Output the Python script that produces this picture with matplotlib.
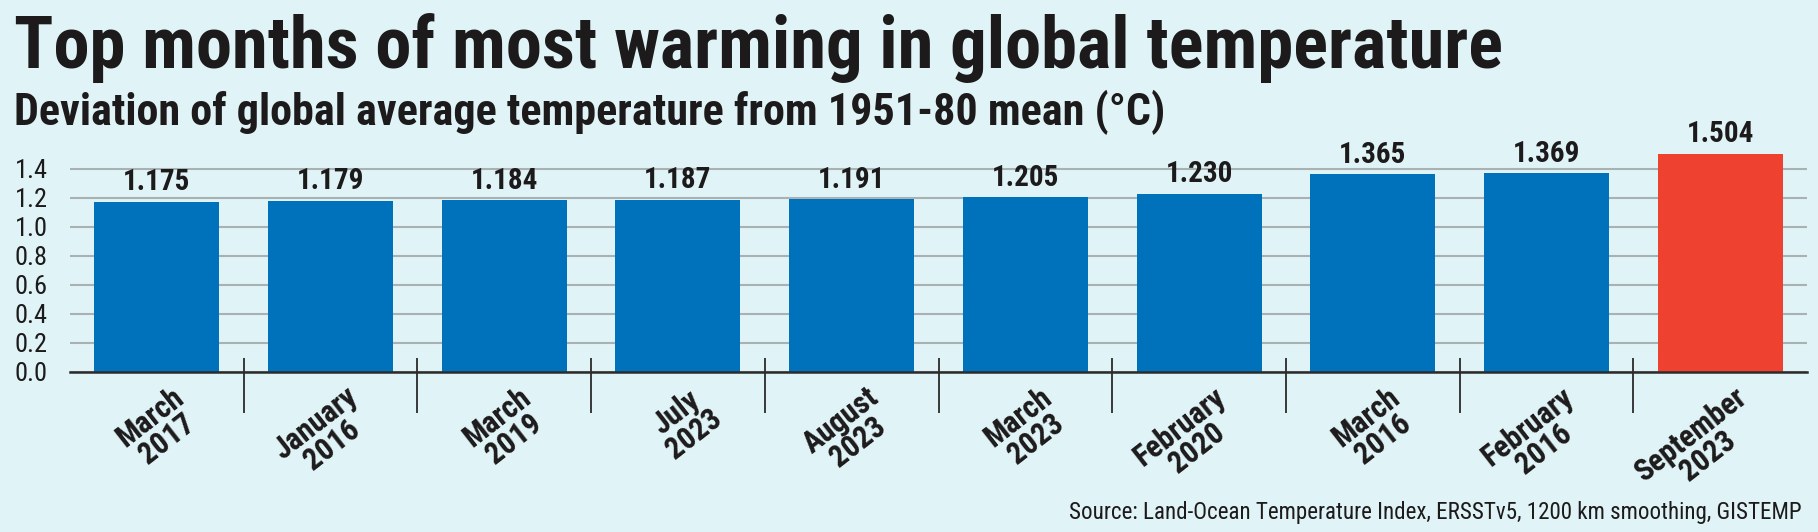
import matplotlib.pyplot as plt
import matplotlib.transforms as mtransforms
from matplotlib import font_manager

# data
months = ["March\n2017", "January\n2016", "March\n2019", "July\n2023", "August\n2023",
          "March\n2023", "February\n2020", "March\n2016", "February\n2016", "September\n2023"]
anomaly = [1.175, 1.179, 1.184, 1.187, 1.191, 1.205, 1.230, 1.365, 1.369, 1.504]
highlight = "September\n2023"
yticks = [0.0, 0.2, 0.4, 0.6, 0.8, 1.0, 1.2, 1.4]

bg = "#e0f3f6"
blue = "#0072bc"
red = "#ef4130"
ink = "#1c1a1b"

# pick a narrow face if one is around
installed = {(f.name, f.stretch) for f in font_manager.fontManager.ttflist}
names = {n for n, _ in installed}
condensed_names = sorted({n for n, s in installed if s in ("condensed", "semi-condensed", "extra-condensed", 75, 87.5)
                          or "Condensed" in n or "Narrow" in n})
family = [n for n in ["Liberation Sans Narrow", "Roboto Condensed", "Open Sans Condensed",
                      "DejaVu Sans Condensed", "Noto Sans Condensed"] if n in names]
family += condensed_names + ["DejaVu Sans"]
plt.rcParams['font.family'] = family[:1] + ["DejaVu Sans"]
plt.rcParams['font.stretch'] = "condensed"

W, H = 1818, 532
fig = plt.figure(figsize=(W / 100, H / 100), dpi=100, facecolor=bg)
ax = fig.add_axes([70 / W, 0.3008, (1807 - 70) / W, 0.4088])
ax.set_facecolor(bg)

x = list(range(len(months)))
colors = [red if m == highlight else blue for m in months]
ax.bar(x, anomaly, width=0.72, color=colors, zorder=3)

for xi, v in zip(x, anomaly):
    ax.annotate(f"{v:.3f}", (xi, v), xytext=(0, 4), textcoords="offset points",
                ha="center", va="bottom", fontsize=21, fontweight="bold",
                color=ink, annotation_clip=False)

ax.set_xlim(-0.5, len(months) - 0.5)
ax.set_ylim(0, 1.5)
ax.set_yticks(yticks)
ax.set_yticklabels([f"{t:.1f}" for t in yticks], fontsize=19, color=ink)
ax.yaxis.grid(True, color="#a9b1b3", linewidth=1.5, zorder=0)
ax.set_axisbelow(True)

ax.set_xticks(x)
ax.set_xticklabels(months, rotation=38, ha="right", va="top", rotation_mode="anchor",
                   fontsize=22, fontweight="bold", color=ink, multialignment="center",
                   linespacing=0.9)
ax.tick_params(axis="x", length=0, pad=7)
ax.tick_params(axis="y", length=0, pad=16)
for lbl in ax.get_xticklabels():
    lbl.set_transform(lbl.get_transform() + mtransforms.ScaledTranslation(0.14, 0, fig.dpi_scale_trans))

for s in ["top", "right", "left"]:
    ax.spines[s].set_visible(False)
ax.spines["bottom"].set_color("#2b2b2b")
ax.spines["bottom"].set_linewidth(1.8)
ax.spines["bottom"].set_zorder(4)

# separators between categories
seps = [i + 0.5 for i in range(len(months) - 1)]
ax.vlines(seps, -0.283, 0.097, color="#2b2b2b", linewidth=1.3, clip_on=False, zorder=4)

title = fig.text(14 / W, 1 - 68 / H, "Top months of most warming in global temperature",
                 fontsize=50, fontweight="bold", color=ink, ha="left", va="baseline")
sub = fig.text(14 / W, 1 - 125 / H, "Deviation of global average temperature from 1951-80 mean (°C)",
               fontsize=29, fontweight="bold", color=ink, ha="left", va="baseline")
src = fig.text(1802 / W, 1 - 519 / H,
               "Source: Land-Ocean Temperature Index, ERSSTv5, 1200 km smoothing, GISTEMP",
               fontsize=16, color=ink, ha="right", va="baseline")

# size headline texts to the widths they take in the reference
renderer = fig.canvas.get_renderer()
for t, target in [(title, 1487), (sub, 1151), (src, 733)]:
    w = t.get_window_extent(renderer).width
    t.set_fontsize(t.get_fontsize() * target / w)

fig.savefig("out.png", dpi=100, facecolor=bg)
